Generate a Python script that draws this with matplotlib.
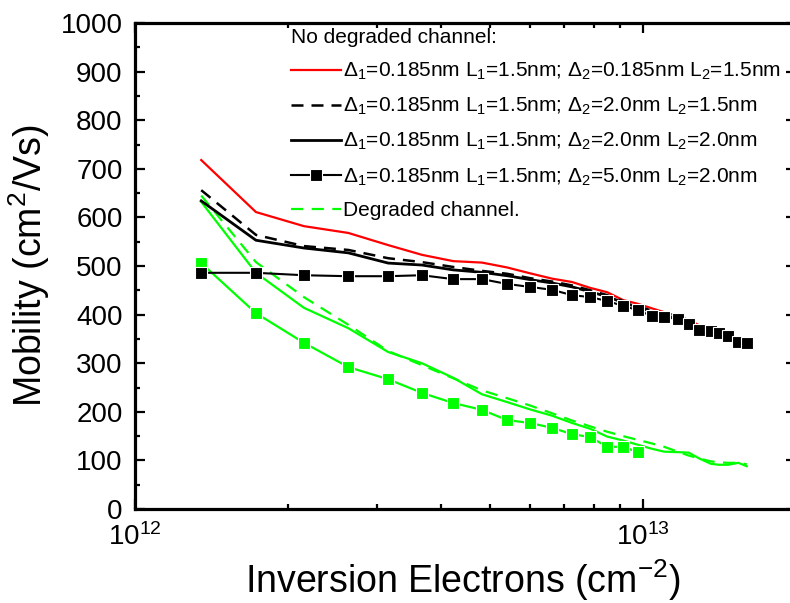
import matplotlib
matplotlib.use("Agg")
import matplotlib.pyplot as plt
from matplotlib.ticker import FixedLocator, NullFormatter, MultipleLocator

# inversion electron density (cm^-2), shared grid
n_inv = [1.35e12, 1.73e12, 2.15e12, 2.63e12, 3.15e12, 3.67e12, 4.23e12, 4.82e12,
         5.40e12, 5.99e12, 6.62e12, 7.25e12, 7.87e12, 8.50e12, 9.13e12, 9.78e12,
         1.04e13, 1.10e13, 1.17e13, 1.23e13, 1.29e13, 1.36e13, 1.41e13, 1.47e13,
         1.54e13, 1.60e13]

# no degraded channel
mu_red = [718, 611, 582, 568, 543, 523, 510, 507, 497, 485, 474, 467, 455, 446, 430, 422,
          413, 405, 397, 389, 378, 370, 364, 357, 348, 344]
mu_dash = [656, 564, 541, 533, 516, 508, 498, 490, 484, 475, 468, 460, 450, 440, 428, 417,
           408, 400, 392, 383, 372, 367, 362, 356, 346, 342]
mu_solid = [634, 553, 537, 527, 506, 502, 492, 487, 480, 472, 465, 457, 447, 437, 425, 415,
            406, 399, 391, 382, 371, 366, 361, 355, 345, 341]
mu_sq = [486, 486, 481, 479, 479, 481, 473, 473, 463, 457, 451, 440, 436, 428, 418, 409,
         397, 395, 391, 381, 368, 366, 362, 356, 344, 342]

# degraded channel
mu_g_dash = [645, 508, 436, 379, 325, 296, 269, 244, 228, 213, 197, 182, 170, 159, 150, 142,
             135, 128, 118, 110, 104, 98, 96, 95, 95, 92]
mu_g_solid = [632, 486, 414, 372, 323, 300, 270, 236, 220, 205, 192, 177, 165, 149, 141, 132,
              124, 118, 117, 116, 104, 93, 91, 91, 95, 88]
mu_g_sq = [506, 403, 342, 292, 267, 239, 218, 204, 183, 177, 167, 154, 148, 128, 128, 117]

labels = [
    r"$\Delta_1$=0.185nm L$_1$=1.5nm; $\Delta_2$=0.185nm L$_2$=1.5nm",
    r"$\Delta_1$=0.185nm L$_1$=1.5nm; $\Delta_2$=2.0nm L$_2$=1.5nm",
    r"$\Delta_1$=0.185nm L$_1$=1.5nm; $\Delta_2$=2.0nm L$_2$=2.0nm",
    r"$\Delta_1$=0.185nm L$_1$=1.5nm; $\Delta_2$=5.0nm L$_2$=2.0nm",
    "Degraded channel.",
]

plt.rcParams['font.family'] = ['Liberation Sans', 'DejaVu Sans']
plt.rcParams['mathtext.fontset'] = 'custom'
plt.rcParams['mathtext.rm'] = 'Liberation Sans'
plt.rcParams['mathtext.it'] = 'Liberation Sans'
plt.rcParams['mathtext.bf'] = 'Liberation Sans:bold'

GREEN = '#00ff00'

fig = plt.figure(figsize=(7.9, 6.03), dpi=100)
ax = fig.add_axes([135 / 790, 94 / 603, 661 / 790, 486 / 603])

n_g = n_inv[:len(mu_g_sq)]
ax.plot(n_inv, mu_g_solid, color=GREEN, lw=1.6)
ax.plot(n_inv, mu_g_dash, color=GREEN, lw=1.6, ls='--', dashes=(5.5, 3.8), label=labels[4])
ax.plot(n_g, mu_g_sq, color=GREEN, lw=1.6, marker='s', ms=8, mec='white', mew=0.8)
ax.plot(n_inv, mu_red, color='red', lw=1.6, label=labels[0])
ax.plot(n_inv, mu_dash, color='black', lw=1.8, ls='--', dashes=(4.8, 3.2), label=labels[1])
ax.plot(n_inv, mu_solid, color='black', lw=2.0, label=labels[2])
ax.plot(n_inv, mu_sq, color='black', lw=1.5, marker='s', ms=8, mec='white', mew=0.8,
        label=labels[3])

ax.set_xscale('log')
ax.set_xlim(1e12, 2e13)
ax.set_ylim(0, 1000)
ax.xaxis.set_major_locator(FixedLocator([1e12, 1e13]))
ax.set_xticklabels([r'$10^{12}$', r'$10^{13}$'])
ax.xaxis.set_minor_locator(FixedLocator([k * 1e12 for k in range(2, 10)] + [2e13]))
ax.xaxis.set_minor_formatter(NullFormatter())
ax.yaxis.set_major_locator(MultipleLocator(100))
ax.yaxis.set_minor_locator(MultipleLocator(50))

for s in ax.spines.values():
    s.set_linewidth(2.3)
ax.tick_params(which='both', direction='in', top=True, right=True, width=1.6, labelsize=20)
ax.tick_params(which='major', length=7)
ax.tick_params(axis='y', which='major', pad=9)
ax.tick_params(axis='x', which='major', pad=10)
ax.tick_params(which='minor', length=3.5)

ax.set_xlabel('Inversion Electrons (cm$^{-2}$)', fontsize=27)
ax.set_ylabel('Mobility (cm$^{2}$/Vs)', fontsize=27)
ax.xaxis.set_label_coords(0.495, -0.1)
ax.yaxis.set_label_coords(-0.125, 0.5)

h, l = ax.get_legend_handles_labels()
order = [l.index(x) for x in labels]
leg = ax.legend([h[i] for i in order], [l[i] for i in order],
                title='No degraded channel:', title_fontsize=15, alignment='left',
                loc='upper left', bbox_to_anchor=((291 - 135) / 661, 0.989),
                frameon=False, fontsize=15, handlelength=2.4, handletextpad=0.1,
                borderpad=0, borderaxespad=0, labelspacing=0.66)

fig.savefig('out.png', dpi=100)
